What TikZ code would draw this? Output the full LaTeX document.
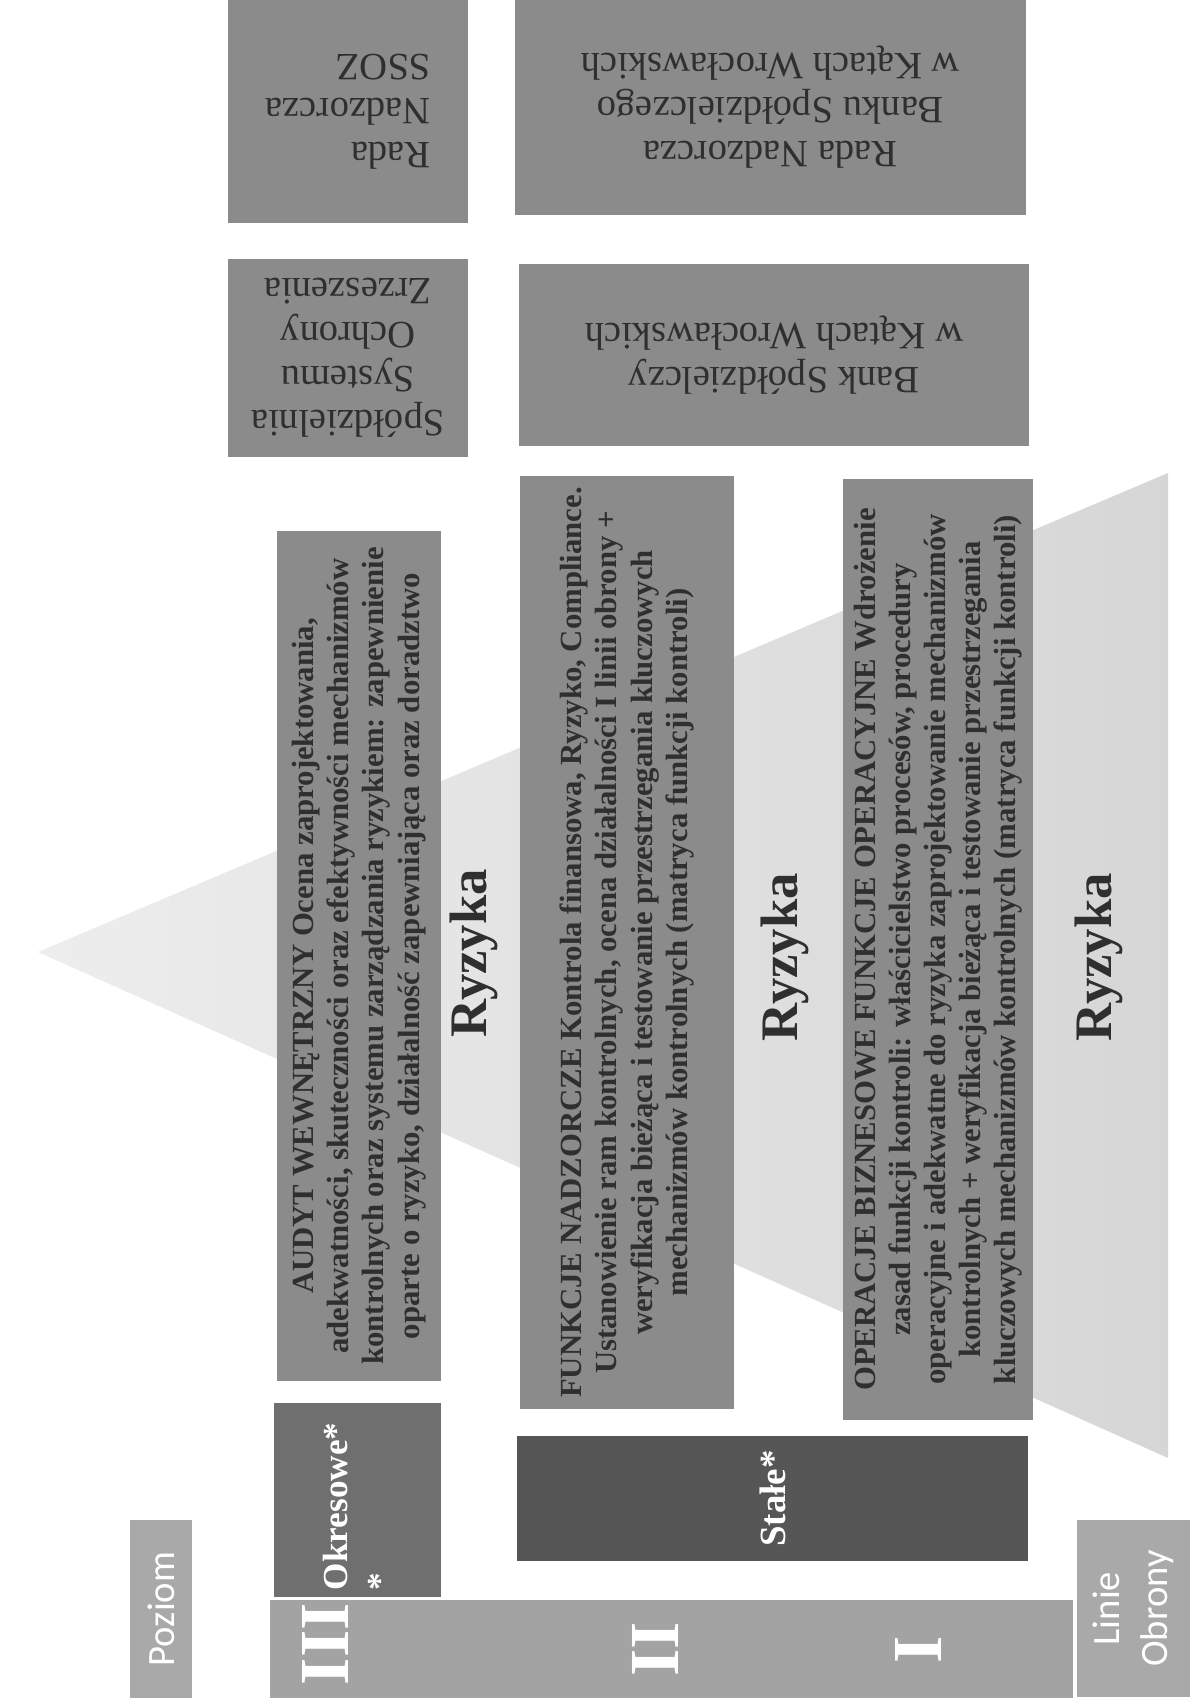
\documentclass[tikz,border=0pt]{standalone}
\usepackage{fontspec}
\setmainfont{Liberation Serif}
\newfontfamily\labelsans{Carlito}
\definecolor{boxgray}{HTML}{8B8B8B}
\definecolor{okresgray}{HTML}{6F6F6F}
\definecolor{stalegray}{HTML}{565656}
\definecolor{bargray}{HTML}{A3A3A3}
\definecolor{taggray}{HTML}{A9A9A9}
\definecolor{inkgray}{HTML}{2F2F2F}

\begin{document}
\begin{tikzpicture}[x=0.02cm, y=-0.02cm,
  box/.style={fill=boxgray, text=inkgray, inner sep=3pt},
  vbox/.style={box, rotate=90, align=center, font=\bfseries\fontsize{17.5}{20}\selectfont},
  flipbox/.style={box, rotate=180, font=\fontsize{22}{25}\selectfont},
  tag/.style={fill=taggray, text=white, rotate=90, align=center, font=\labelsans\fontsize{22}{27}\selectfont},
  risk/.style={rotate=90, text=inkgray, font=\bfseries\fontsize{30}{30}\selectfont},
  roman/.style={rotate=90, text=white, font=\bfseries\fontsize{40}{40}\selectfont}]
\useasboundingbox (0,0) rectangle (1190,1706);

\shade[left color=gray!14, right color=gray!32] (38,952) -- (1168,473) -- (1168,1458) -- cycle;

\node(RadaSSOZ) [flipbox, align=left, minimum width=4.8cm, minimum height=4.46cm] at (348,111.5) {Rada\\Nadzorcza\\SSOZ};
\node(RadaBS) [flipbox, align=center, minimum width=10.22cm, minimum height=4.3cm] at (770.5,107.5) {Rada Nadzorcza\\Banku Spółdzielczego\\w Kątach Wrocławskich};
\node(SSOZ) [flipbox, align=center, minimum width=4.8cm, minimum height=3.96cm] at (348,358) {Spółdzielnia\\Systemu\\Ochrony\\Zrzeszenia};
\node(BS) [flipbox, align=center, minimum width=10.2cm, minimum height=3.64cm] at (774,355) {Bank Spółdzielczy\\w Kątach Wrocławskich};

\node(Audyt) [vbox, minimum width=17cm, minimum height=3.28cm] at (359,956) {AUDYT WEWNĘTRZNY Ocena zaprojektowania,\\adekwatności, skuteczności oraz efektywności mechanizmów\\kontrolnych oraz systemu zarządzania ryzykiem: zapewnienie\\oparte o ryzyko, działalność zapewniająca oraz doradztwo};
\node(Nadzor) [vbox, minimum width=18.66cm, minimum height=4.28cm] at (627,942.5) {FUNKCJE NADZORCZE Kontrola finansowa, Ryzyko, Compliance.\\Ustanowienie ram kontrolnych, ocena działalności I linii obrony +\\weryfikacja bieżąca i testowanie przestrzegania kluczowych\\mechanizmów kontrolnych (matryca funkcji kontroli)};
\node(Operacje) [vbox, minimum width=18.82cm, minimum height=3.8cm] at (938,949.5) {OPERACJE BIZNESOWE FUNKCJE OPERACYJNE Wdrożenie\\zasad funkcji kontroli: właścicielstwo procesów, procedury\\operacyjne i adekwatne do ryzyka zaprojektowanie mechanizmów\\kontrolnych + weryfikacja bieżąca i testowanie przestrzegania\\kluczowych mechanizmów kontrolnych (matryca funkcji kontroli)};

\node(Ryz3) [risk] at (474,953) {Ryzyka};
\node(Ryz2) [risk] at (785,957) {Ryzyka};
\node(Ryz1) [risk] at (1099,957) {Ryzyka};

\node(Okres) [fill=okresgray, text=white, rotate=90, inner xsep=4pt, text width=3.6cm, align=left, minimum width=3.88cm, minimum height=3.34cm, font=\bfseries\fontsize{20}{25}\selectfont] at (357.5,1500) {Okresowe*\\{*}};
\node(Stale) [fill=stalegray, text=white, rotate=90, minimum width=2.5cm, minimum height=10.22cm, font=\bfseries\fontsize{21}{25}\selectfont] at (772.5,1498.5) {Stałe*};

\node(Poziom) [tag, minimum width=3.56cm, minimum height=1.24cm] at (161,1609) {Poziom};
\node(Pasek) [fill=bargray, minimum width=16.06cm, minimum height=1.96cm] at (671.5,1649) {};
\node(Linie) [tag, minimum width=3.54cm, minimum height=2.26cm] at (1133.5,1608.5) {Linie\\Obrony};

\node(III) [roman] at (325,1644) {III};
\node(II) [roman] at (655,1649) {II};
\node(I) [roman] at (918,1650) {I};
\end{tikzpicture}
\end{document}
